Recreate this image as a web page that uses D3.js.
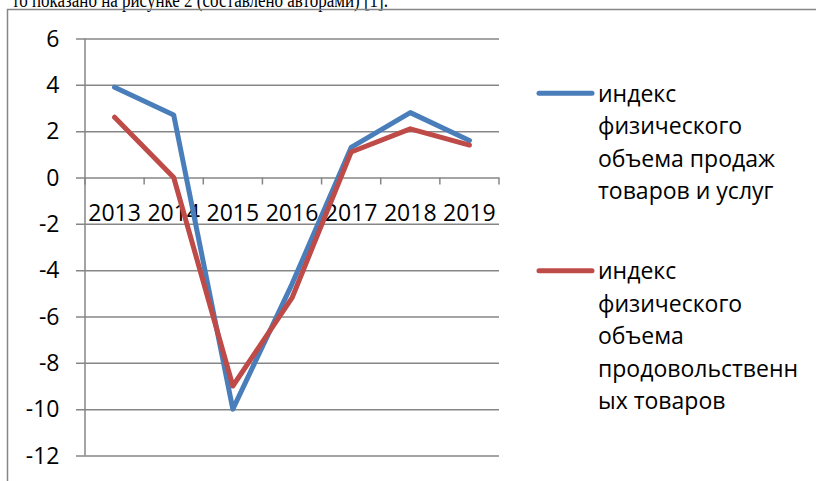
<!DOCTYPE html>
<html>
<head>
<meta charset="utf-8">
<script src="https://cdn.jsdelivr.net/npm/d3@7"></script>
<style>
  body { margin: 0; background: #fff; }
  text { font-family: "Open Sans", sans-serif; fill: #000; }
</style>
</head>
<body>
<div id="chart"></div>
<script>
const years = ['2013', '2014', '2015', '2016', '2017', '2018', '2019']
const salesIndex = [3.9, 2.7, -10.0, -4.6, 1.3, 2.8, 1.6]
const foodIndex = [2.6, 0.0, -9.0, -5.2, 1.1, 2.1, 1.4]
const yTicks = [6, 4, 2, 0, -2, -4, -6, -8, -10, -12]
const seriesNames = [
  ['индекс', 'физического', 'объема продаж', 'товаров и услуг'],
  ['индекс', 'физического', 'объема', 'продовольственн', 'ых товаров']
]

const width = 816
const height = 481
const gridColor = '#868686'
const colors = ['#4a7ebb', '#be4b48']

const svg = d3.select('#chart').append('svg').attr('width', width).attr('height', height)

// cut-off line of the article text above the figure
svg.append('text')
  .attr('x', 12)
  .attr('y', 6.5)
  .style('font-family', '"Liberation Serif", serif')
  .attr('font-size', '20px')
  .attr('textLength', 376)
  .attr('lengthAdjust', 'spacingAndGlyphs')
  .text('то показано на рисунке 2 (составлено авторами) [1].')

// frame of the chart
svg.append('rect')
  .attr('x', 7.5)
  .attr('y', 9.5)
  .attr('width', 830)
  .attr('height', 500)
  .attr('fill', 'none')
  .attr('stroke', gridColor)
  .attr('stroke-width', 1.5)

const xScale = d3.scaleBand().domain(years).range([85, 499])
const yScale = d3.scaleLinear().domain([-12, 6]).range([455.5, 38.5])

// horizontal gridlines + left ticks
const yAxis = d3.axisLeft(yScale).tickValues(yTicks).tickSize(-(499 - 76)).tickPadding(0).tickFormat(function(d) {
  return d < 0 ? '-' + Math.abs(d) : d
})
const gy = svg.append('g').attr('transform', 'translate(76 0)').call(yAxis)
gy.select('.domain').remove()
gy.selectAll('.tick line').attr('stroke', gridColor).attr('stroke-width', 1.5)
gy.selectAll('.tick text')
  .attr('x', -16.5)
  .attr('dy', '0.33em')
  .attr('font-size', '23px')

// vertical axis line
svg.append('line')
  .attr('x1', 85).attr('x2', 85)
  .attr('y1', yScale(6)).attr('y2', yScale(-12))
  .attr('stroke', gridColor)
  .attr('stroke-width', 1.5)

// category axis at zero, ticks between categories
const gx = svg.append('g').attr('transform', 'translate(0 ' + yScale(0) + ')')
gx.selectAll('line').data(years.concat(['end']))
  .enter()
  .append('line')
  .attr('x1', function(d, i) { return xScale.range()[0] + i * xScale.step() })
  .attr('x2', function(d, i) { return xScale.range()[0] + i * xScale.step() })
  .attr('y1', 0)
  .attr('y2', 7)
  .attr('stroke', gridColor)
  .attr('stroke-width', 1.5)
gx.selectAll('text').data(years)
  .enter()
  .append('text')
  .attr('x', function(d) { return xScale(d) + xScale.bandwidth() / 2 })
  .attr('y', 43)
  .attr('text-anchor', 'middle')
  .attr('font-size', '23px')
  .text(function(d) { return d })

const line = d3.line()
  .x(function(d, i) { return xScale(years[i]) + xScale.bandwidth() / 2 })
  .y(function(d) { return yScale(d) })

;[salesIndex, foodIndex].forEach(function(values, i) {
  svg.append('path')
    .datum(values)
    .attr('d', line)
    .attr('fill', 'none')
    .attr('stroke', colors[i])
    .attr('stroke-width', 5)
    .attr('stroke-linejoin', 'round')
    .attr('stroke-linecap', 'round')
})

// legend
const legendY = [93.3, 270.7]
seriesNames.forEach(function(lines, i) {
  const g = svg.append('g').attr('transform', 'translate(0 ' + legendY[i] + ')')
  g.append('line')
    .attr('x1', 539).attr('x2', 592)
    .attr('y1', 0).attr('y2', 0)
    .attr('stroke', colors[i])
    .attr('stroke-width', 5)
    .attr('stroke-linecap', 'round')
  g.selectAll('text').data(lines)
    .enter()
    .append('text')
    .attr('x', 598)
    .attr('y', function(d, j) { return 8.4 + j * 32.5 })
    .attr('font-size', '23px')
    .text(function(d) { return d })
})
</script>
</body>
</html>
